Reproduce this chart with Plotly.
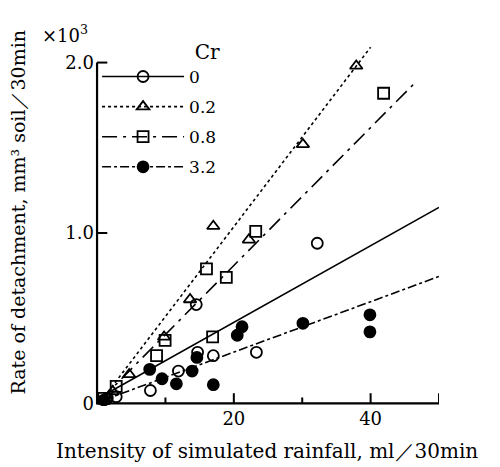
import plotly.graph_objects as go

# ---- data ----
cr_labels = ["0", "0.2", "0.8", "3.2"]

x_cr0 = [1.5, 2.8, 7.8, 11.9, 14.7, 17.0, 14.5, 23.3, 32.2]
y_cr0 = [0.03, 0.04, 0.076, 0.19, 0.30, 0.28, 0.58, 0.30, 0.94]

x_cr02 = [1.2, 2.3, 4.7, 9.8, 13.6, 17.0, 22.2, 30.1, 37.9]
y_cr02 = [0.02, 0.07, 0.17, 0.39, 0.61, 1.04, 0.96, 1.52, 1.98]

x_cr08 = [1.0, 2.8, 8.7, 9.95, 16.0, 16.9, 18.9, 23.2, 41.9]
y_cr08 = [0.03, 0.10, 0.28, 0.37, 0.79, 0.39, 0.74, 1.01, 1.82]

x_cr32 = [1.0, 7.7, 9.5, 11.6, 13.9, 14.6, 17.0, 20.5, 21.2, 30.1, 39.9, 39.9]
y_cr32 = [0.02, 0.20, 0.145, 0.115, 0.19, 0.27, 0.11, 0.40, 0.45, 0.47, 0.52, 0.42]

# fitted lines (end points)
line_x_cr0 = [1.5, 50]
line_y_cr0 = [0.06, 1.15]
line_x_cr02 = [0.5, 40]
line_y_cr02 = [0.01, 2.09]
line_x_cr08 = [0.5, 46.7]
line_y_cr08 = [0.02, 1.89]
line_x_cr32 = [1.0, 50]
line_y_cr32 = [0.02, 0.745]

# axis extents and tick marks
x_axis_max = 50
y_axis_max = 2.0
x_tick_pos = [10, 20, 30, 40, 50]
x_tick_len = [0.035, 0.06, 0.035, 0.06, 0.06]   # in y units
y_tick_pos = [1.0, 2.0]
y_tick_len = [1.5, 1.5]                         # in x units
x_label_vals = [20, 40]
x_label_text = ["20", "40"]
y_label_vals = [0, 1, 2]
y_label_text = ["0", "1.0", "2.0"]

x_range = [-0.3, 50]
y_range = [-0.015, 2.15]

FONT = "DejaVu Serif"
BLACK = "black"

series = [
    (x_cr0, y_cr0, line_x_cr0, line_y_cr0, "circle-open", "solid", cr_labels[0]),
    (x_cr02, y_cr02, line_x_cr02, line_y_cr02, "triangle-up-open", "dot", cr_labels[1]),
    (x_cr08, y_cr08, line_x_cr08, line_y_cr08, "square-open", "longdashdot", cr_labels[2]),
    (x_cr32, y_cr32, line_x_cr32, line_y_cr32, "circle", "dashdot", cr_labels[3]),
]

fig = go.Figure()

# axis frame (L-shaped) and tick marks as line traces
frame_x = [0, 0, x_axis_max]
frame_y = [y_axis_max, 0, 0]
fig.add_trace(go.Scatter(x=frame_x, y=frame_y, mode="lines",
                         line=dict(color=BLACK, width=2.2), showlegend=False, hoverinfo="skip"))
tick_x, tick_y = [], []
for p, ln in zip(x_tick_pos, x_tick_len):
    tick_x += [p, p, None]
    tick_y += [0, ln, None]
for p, ln in zip(y_tick_pos, y_tick_len):
    tick_x += [0, ln, None]
    tick_y += [p, p, None]
fig.add_trace(go.Scatter(x=tick_x, y=tick_y, mode="lines",
                         line=dict(color=BLACK, width=2), showlegend=False, hoverinfo="skip"))

for xs, ys, lx, ly, sym, dash, lab in series:
    fig.add_trace(go.Scatter(
        x=lx, y=ly, mode="lines", line=dict(color=BLACK, width=1.6, dash=dash),
        showlegend=False, legendgroup=lab, hoverinfo="skip"))
    fig.add_trace(go.Scatter(
        x=xs, y=ys, mode="markers",
        marker=dict(symbol=sym, size=11, color=BLACK, line=dict(color=BLACK, width=1.8)),
        showlegend=False, legendgroup=lab, name=lab))
    # legend entry showing marker + line style
    fig.add_trace(go.Scatter(
        x=[None], y=[None], mode="lines+markers", name=lab, legendgroup=lab,
        line=dict(color=BLACK, width=1.6, dash=dash),
        marker=dict(symbol=sym, size=11, color=BLACK, line=dict(color=BLACK, width=1.8))))

fig.update_layout(
    width=492, height=459,
    margin=dict(l=87, r=61, t=29, b=61),
    paper_bgcolor="white", plot_bgcolor="white",
    font=dict(family=FONT, size=18, color=BLACK),
    legend=dict(
        x=0.006, y=1.011, xanchor="left", yanchor="top",
        bgcolor="rgba(255,255,255,0)", itemwidth=82, tracegroupgap=5,
        font=dict(family=FONT, size=17),
        title=dict(text="Cr", side="top right"),
    ),
    xaxis=dict(
        range=x_range, gridcolor="white", zerolinecolor="white", showline=False,
        tickmode="array", tickvals=x_label_vals, ticktext=x_label_text, ticks="",
    ),
    yaxis=dict(
        range=y_range, gridcolor="white", zerolinecolor="white", showline=False,
        tickmode="array", tickvals=y_label_vals, ticktext=y_label_text,
        ticksuffix="  ", ticks="",
    ),
    annotations=[
        dict(text="Intensity of simulated rainfall, ml／30min", xref="paper", yref="paper",
             x=0.5, y=0, yshift=-31, xanchor="center", yanchor="top", showarrow=False,
             font=dict(family=FONT, size=20)),
        dict(text="Rate of detachment, mm³ soil／30min", xref="paper", yref="paper",
             x=0, y=0.5, xshift=-78, yshift=9, xanchor="center", yanchor="middle",
             textangle=-90, showarrow=False, font=dict(family=FONT, size=19)),
        dict(text="×10<sup>3</sup>", xref="paper", yref="paper", x=0, y=1,
             xshift=-55, yshift=-11, xanchor="left", yanchor="bottom", showarrow=False),
    ],
)

fig.write_html("out.html")
